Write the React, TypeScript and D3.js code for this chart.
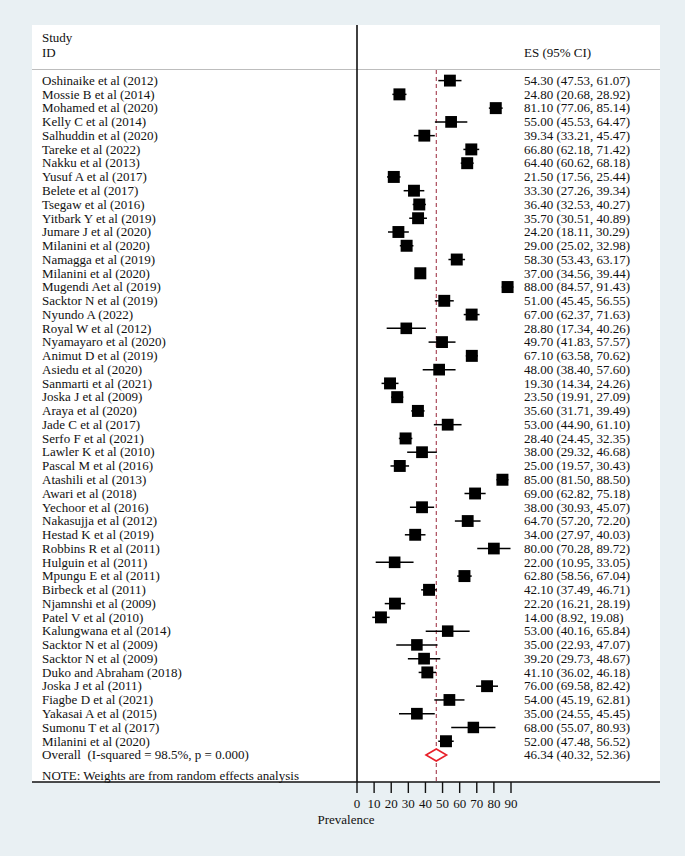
import React from 'react';
import * as d3 from 'd3';

// study labels, top to bottom
const studies = [
  'Oshinaike et al (2012)', 'Mossie B et al (2014)', 'Mohamed et al (2020)', 'Kelly C et al (2014)',
  'Salhuddin et al (2020)', 'Tareke et al (2022)', 'Nakku et al (2013)', 'Yusuf A et al (2017)',
  'Belete et al (2017)', 'Tsegaw et al (2016)', 'Yitbark Y et al (2019)', 'Jumare J et al (2020)',
  'Milanini et al (2020)', 'Namagga et al (2019)', 'Milanini et al (2020)', 'Mugendi Aet al (2019)',
  'Sacktor N et al (2019)', 'Nyundo A (2022)', 'Royal W et al (2012)', 'Nyamayaro et al (2020)',
  'Animut D et al (2019)', 'Asiedu et al (2020)', 'Sanmarti et al (2021)', 'Joska J et al (2009)',
  'Araya et al (2020)', 'Jade C et al (2017)', 'Serfo F et al (2021)', 'Lawler K et al (2010)',
  'Pascal M et al (2016)', 'Atashili et al (2013)', 'Awari et al (2018)', 'Yechoor et al (2016)',
  'Nakasujja et al (2012)', 'Hestad K et al (2019)', 'Robbins R et al (2011)', 'Hulguin et al (2011)',
  'Mpungu E et al (2011)', 'Birbeck et al (2011)', 'Njamnshi et al (2009)', 'Patel V et al (2010)',
  'Kalungwana et al (2014)', 'Sacktor N et al (2009)', 'Sacktor N et al (2009)', 'Duko and Abraham (2018)',
  'Joska J et al (2011)', 'Fiagbe D et al (2021)', 'Yakasai A et al (2015)', 'Sumonu T et al (2017)',
  'Milanini et al (2020)'
];

const es = [
  54.3, 24.8, 81.1, 55.0, 39.34, 66.8, 64.4, 21.5, 33.3, 36.4, 35.7, 24.2, 29.0, 58.3, 37.0, 88.0,
  51.0, 67.0, 28.8, 49.7, 67.1, 48.0, 19.3, 23.5, 35.6, 53.0, 28.4, 38.0, 25.0, 85.0, 69.0, 38.0,
  64.7, 34.0, 80.0, 22.0, 62.8, 42.1, 22.2, 14.0, 53.0, 35.0, 39.2, 41.1, 76.0, 54.0, 35.0, 68.0, 52.0
];

const lower = [
  47.53, 20.68, 77.06, 45.53, 33.21, 62.18, 60.62, 17.56, 27.26, 32.53, 30.51, 18.11, 25.02, 53.43, 34.56, 84.57,
  45.45, 62.37, 17.34, 41.83, 63.58, 38.4, 14.34, 19.91, 31.71, 44.9, 24.45, 29.32, 19.57, 81.5, 62.82, 30.93,
  57.2, 27.97, 70.28, 10.95, 58.56, 37.49, 16.21, 8.92, 40.16, 22.93, 29.73, 36.02, 69.58, 45.19, 24.55, 55.07, 47.48
];

const upper = [
  61.07, 28.92, 85.14, 64.47, 45.47, 71.42, 68.18, 25.44, 39.34, 40.27, 40.89, 30.29, 32.98, 63.17, 39.44, 91.43,
  56.55, 71.63, 40.26, 57.57, 70.62, 57.6, 24.26, 27.09, 39.49, 61.1, 32.35, 46.68, 30.43, 88.5, 75.18, 45.07,
  72.2, 40.03, 89.72, 33.05, 67.04, 46.71, 28.19, 19.08, 65.84, 47.07, 48.67, 46.18, 82.42, 62.81, 45.45, 80.93, 56.52
];

const overall = { es: 46.34, lo: 40.32, hi: 52.36 };
const overallLabel = 'Overall  (I-squared = 98.5%, p = 0.000)';
const noteLabel = 'NOTE: Weights are from random effects analysis';
const xTicks = [0, 10, 20, 30, 40, 50, 60, 70, 80, 90];

const W = 685;
const H = 856;
const panel = { left: 32, right: 660, top: 25, bottom: 782 };
const font = '"Liberation Serif", "Times New Roman", serif';
const ink = '#111';

// random effects (DerSimonian-Laird) weights -> box size
const boxSides = (function() {
  const v = lower.map((l, i) => Math.pow((upper[i] - l) / 3.92, 2));
  const w = v.map(d => 1 / d);
  const sw = d3.sum(w);
  const mean = d3.sum(w.map((d, i) => d * es[i])) / sw;
  const Q = d3.sum(w.map((d, i) => d * Math.pow(es[i] - mean, 2)));
  const tau2 = Math.max(0, (Q - (es.length - 1)) / (sw - d3.sum(w.map(d => d * d)) / sw));
  const wr = v.map(d => 1 / (d + tau2));
  const wmax = d3.max(wr) as number;
  return wr.map(d => 12 * Math.sqrt(d / wmax));
})();

const fmt = d3.format('.2f');
const ciText = (e: number, l: number, u: number) => `${fmt(e)} (${fmt(l)}, ${fmt(u)})`;

export default function App() {
  const x = d3.scaleLinear().domain([0, 90]).range([357, 511]);
  const y = d3.scaleLinear().domain([0, studies.length]).range([80.6, 755]);
  const oy = y(studies.length);
  const noteY = 775.5;

  return (
    <div style={{ position: 'absolute', left: 0, top: 0 }}>
      <svg width={W} height={H} style={{ display: 'block', fontFamily: font }}>
        <rect x={0} y={0} width={W} height={H} fill="#e9f0f3" />
        <rect x={panel.left} y={panel.top} width={panel.right - panel.left} height={panel.bottom - panel.top} fill="#fff" />

        {/* header */}
        <text x={42} y={42} fontSize={13} fill={ink}>Study</text>
        <text x={42} y={56.5} fontSize={13} fill={ink}>ID</text>
        <text x={524} y={56.5} fontSize={13} fill={ink}>ES (95% CI)</text>
        <line x1={panel.left} x2={panel.right} y1={69.5} y2={69.5} stroke="#bdbdbd" strokeWidth={1.2} />

        {/* null line and overall line */}
        <line x1={x(0)} x2={x(0)} y1={panel.top} y2={panel.bottom} stroke={ink} strokeWidth={1.6} />
        <line x1={x(overall.es)} x2={x(overall.es)} y1={70} y2={panel.bottom}
              stroke="#a33a4c" strokeWidth={1.1} strokeDasharray="4,3" />

        {/* studies */}
        {studies.map((s, i) => {
          const cy = y(i);
          const side = boxSides[i];
          return (
            <g key={i}>
              <text x={42} y={cy} dy="0.33em" fontSize={13} fill={ink}>{s}</text>
              <line x1={x(lower[i])} x2={x(upper[i])} y1={cy} y2={cy} stroke="#000" strokeWidth={1.5} />
              <rect x={x(es[i]) - side / 2} y={cy - side / 2} width={side} height={side} fill="#000" />
              <text x={524} y={cy} dy="0.33em" fontSize={13} fill={ink}>{ciText(es[i], lower[i], upper[i])}</text>
            </g>
          );
        })}

        {/* overall */}
        <text x={42} y={oy} dy="0.33em" fontSize={13} fill={ink} style={{ whiteSpace: 'pre' }}>{overallLabel}</text>
        <path
          d={`M${x(overall.lo)},${oy} L${x(overall.es)},${oy - 6} L${x(overall.hi)},${oy} L${x(overall.es)},${oy + 6} Z`}
          fill="#fff" stroke="#e8202a" strokeWidth={1.6} />
        <text x={524} y={oy} dy="0.33em" fontSize={13} fill={ink}>{ciText(overall.es, overall.lo, overall.hi)}</text>
        <text x={42} y={noteY} dy="0.33em" fontSize={13} fill={ink}>{noteLabel}</text>

        {/* x axis */}
        <line x1={panel.left} x2={panel.right} y1={panel.bottom} y2={panel.bottom} stroke={ink} strokeWidth={1.6} />
        {xTicks.map(t => (
          <g key={t}>
            <line x1={x(t)} x2={x(t)} y1={panel.bottom} y2={panel.bottom + 11} stroke={ink} strokeWidth={1.4} />
            <text x={x(t)} y={808} textAnchor="middle" fontSize={13} fill={ink}>{t}</text>
          </g>
        ))}
        <text x={346} y={824} textAnchor="middle" fontSize={13} fill={ink}>Prevalence</text>
      </svg>
    </div>
  );
}
